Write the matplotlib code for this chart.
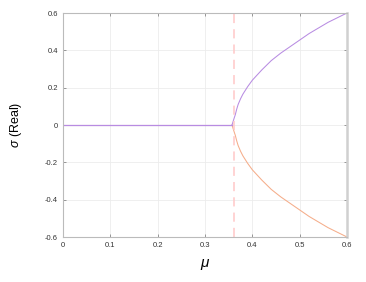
import matplotlib
matplotlib.use("Agg")
import matplotlib.pyplot as plt

plt.rcParams['font.family'] = ['Liberation Sans', 'DejaVu Sans']
plt.rcParams['mathtext.fontset'] = 'custom'
plt.rcParams['mathtext.it'] = 'Liberation Sans:italic'

# flat branch (both eigenvalues at zero real part)
mu_flat = [0.0, 0.1, 0.2, 0.3, 0.357]
sigma_flat = [0.0, 0.0, 0.0, 0.0, 0.0]

# split branch
mu_split = [0.357, 0.362, 0.364, 0.367, 0.370, 0.375, 0.380, 0.390, 0.400,
            0.420, 0.440, 0.460, 0.480, 0.500, 0.520, 0.540, 0.560, 0.580, 0.600]
sigma_upper = [0.0, 0.04, 0.055, 0.085, 0.11, 0.14, 0.165, 0.205, 0.24,
               0.295, 0.345, 0.385, 0.42, 0.455, 0.49, 0.52, 0.55, 0.575, 0.60]
sigma_lower = [-s for s in sigma_upper]

mu_crit = 0.362

xticks = [0, 0.1, 0.2, 0.3, 0.4, 0.5, 0.6]
xlabels = ["0", "0.1", "0.2", "0.3", "0.4", "0.5", "0.6"]
yticks = [-0.6, -0.4, -0.2, 0, 0.2, 0.4, 0.6]
ylabels = ["-0.6", "-0.4", "-0.2", "0", "0.2", "0.4", "0.6"]

purple = "#b88ce2"
orange = "#f5ad8a"
pink = "#ffc8c8"

fig = plt.figure(figsize=(3.66, 2.82), dpi=100)
ax = fig.add_axes([63/366, 1 - 237/282, 284/366, 224/282])

ax.plot(mu_split, sigma_lower, color=orange, lw=0.75)
ax.plot(mu_flat, sigma_flat, color=orange, lw=0.75)
ax.plot(mu_split, sigma_upper, color=purple, lw=0.75)
ax.plot(mu_flat, sigma_flat, color=purple, lw=0.9)
ax.axvline(mu_crit, color=pink, lw=1.1, ls=(0, (6, 4)))

ax.set_xlim(0, 0.6)
ax.set_ylim(-0.6, 0.6)
ax.set_xticks(xticks)
ax.set_xticklabels(xlabels)
ax.set_yticks(yticks)
ax.set_yticklabels(ylabels)
ax.grid(True, color="#ececec", lw=0.6)
ax.set_axisbelow(True)
ax.tick_params(direction="in", length=2.5, width=0.6, colors="#888888",
               labelsize=5.5, labelcolor="#333333", top=True, right=True)
for s in ax.spines.values():
    s.set_color("#bbbbbb")
    s.set_linewidth(0.8)
ax.spines["right"].set_linewidth(1.8)
ax.spines["right"].set_color("#d0d0d0")

fig.text(205/366, 1 - 265/282, r"$\mu$", ha="center", va="center", fontsize=11)
fig.text(16/366, 1 - 125/282, r"$\sigma$ (Real)", ha="center", va="center",
         rotation=90, fontsize=9)

fig.savefig("out.png", dpi=100)
